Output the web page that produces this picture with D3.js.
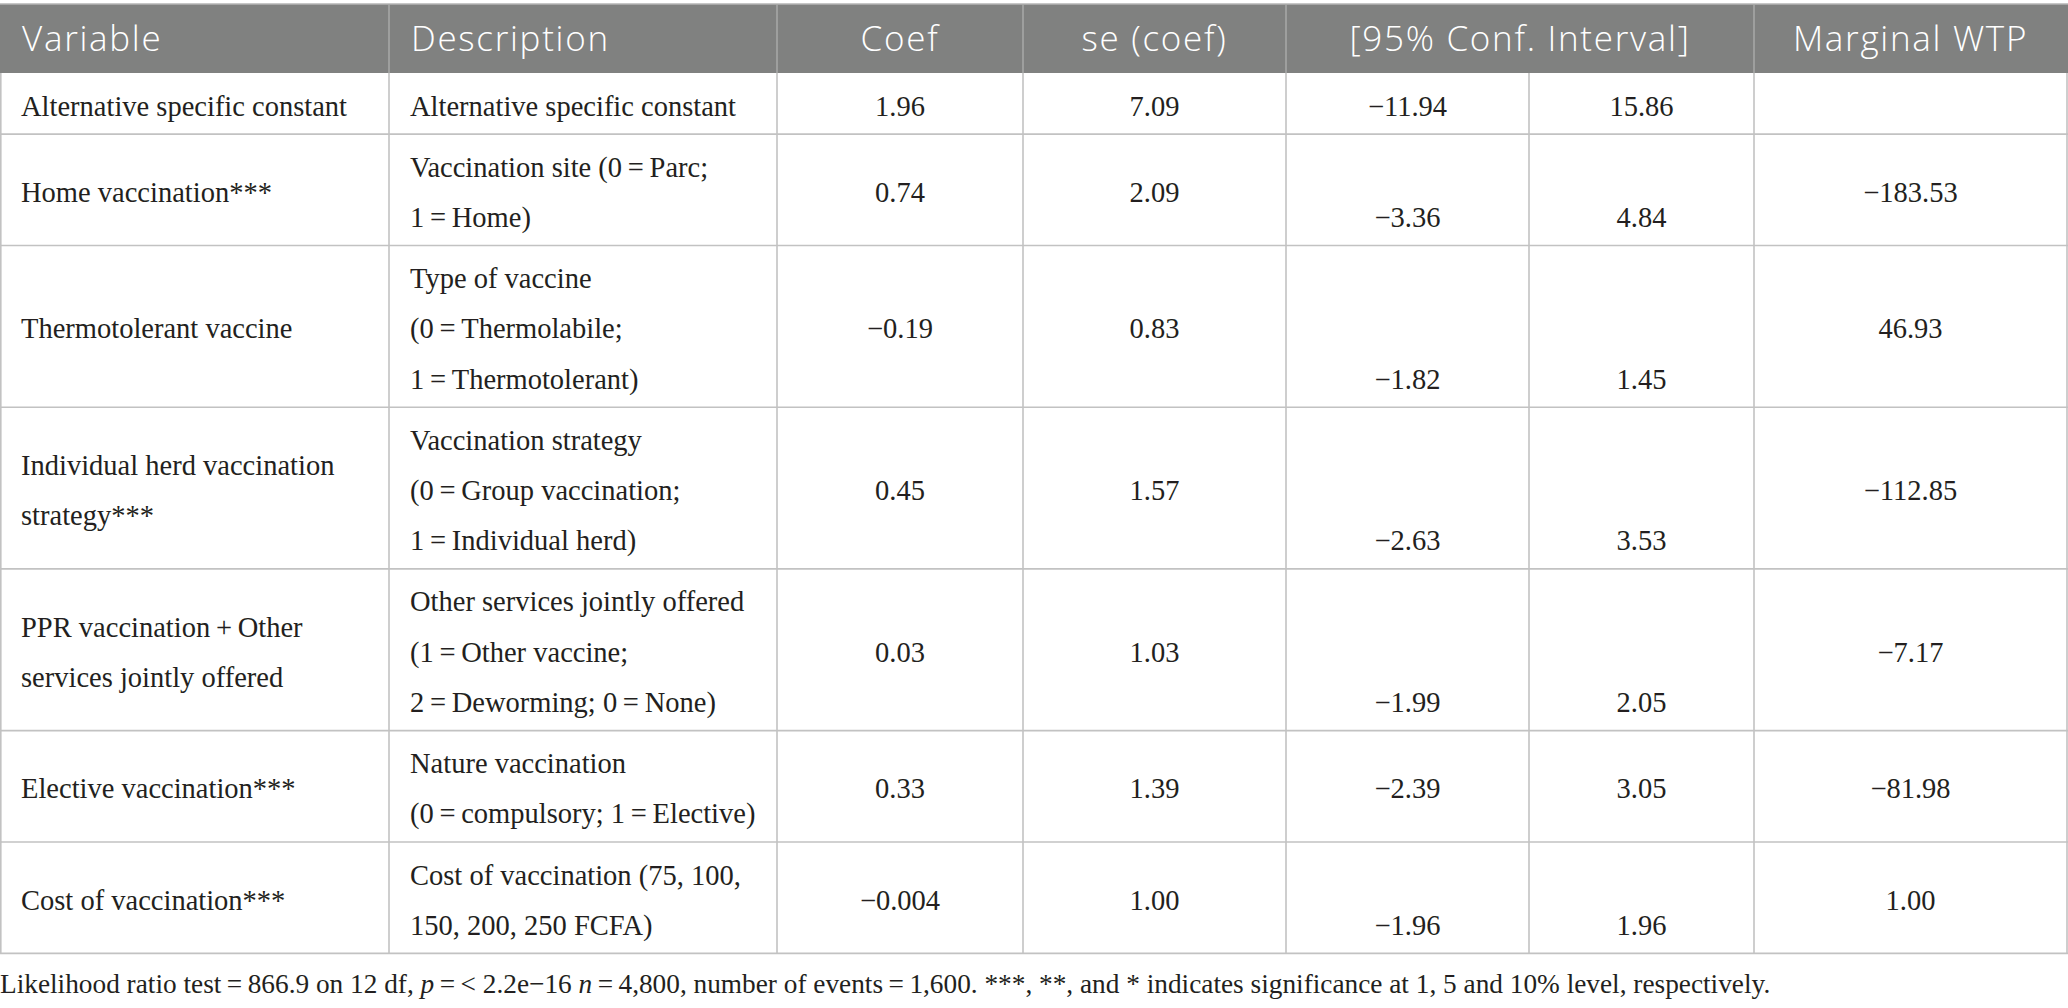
<html>
  <head>
    <meta charset="utf-8">
    <script src="https://cdn.jsdelivr.net/npm/d3@7"></script>
    <style>
      body { margin: 0; background: #ffffff; }
    </style>
    <script>
      // table content
      var headers = ["Variable", "Description", "Coef", "se (coef)", "[95% Conf. Interval]", "Marginal WTP"];
      var variables = [
        ["Alternative specific constant"],
        ["Home vaccination***"],
        ["Thermotolerant vaccine"],
        ["Individual herd vaccination", "strategy***"],
        ["PPR vaccination\u2009+\u2009Other", "services jointly offered"],
        ["Elective vaccination***"],
        ["Cost of vaccination***"]
      ];
      var descriptions = [
        ["Alternative specific constant"],
        ["Vaccination site (0\u2009=\u2009Parc;", "1\u2009=\u2009Home)"],
        ["Type of vaccine", "(0\u2009=\u2009Thermolabile;", "1\u2009=\u2009Thermotolerant)"],
        ["Vaccination strategy", "(0\u2009=\u2009Group vaccination;", "1\u2009=\u2009Individual herd)"],
        ["Other services jointly offered", "(1\u2009=\u2009Other vaccine;", "2\u2009=\u2009Deworming; 0\u2009=\u2009None)"],
        ["Nature vaccination", "(0\u2009=\u2009compulsory; 1\u2009=\u2009Elective)"],
        ["Cost of vaccination (75, 100,", "150, 200, 250 FCFA)"]
      ];
      var coef   = ["1.96", "0.74", "\u22120.19", "0.45", "0.03", "0.33", "\u22120.004"];
      var se     = ["7.09", "2.09", "0.83", "1.57", "1.03", "1.39", "1.00"];
      var ciLow  = ["\u221211.94", "\u22123.36", "\u22121.82", "\u22122.63", "\u22121.99", "\u22122.39", "\u22121.96"];
      var ciHigh = ["15.86", "4.84", "1.45", "3.53", "2.05", "3.05", "1.96"];
      var wtp    = ["", "\u2212183.53", "46.93", "\u2212112.85", "\u22127.17", "\u221281.98", "1.00"];
      // the interval values sit on the last text line except in these rows
      var ciMiddle = [0, 5];

      function load() {
        var svg = d3.select("svg"),
            width = +svg.attr("width");

        var colWidths = [389, 388, 246, 263, 243, 225, 313];
        var edges = [0].concat(Array.from(d3.cumsum(colWidths)));
        var lineH = 50.3, pad = 10.8, headTop = 4, headBottom = 73;
        var bodyFont = "'Liberation Serif', 'Times New Roman', serif";
        var headFont = "'Open Sans', 'Noto Sans', sans-serif";
        var fs = 28.5;

        var nLines = descriptions.map(function(d, i) {
          return Math.max(d.length, variables[i].length);
        });
        var heights = nLines.map(function(n) { return pad + n * lineH; });
        var tops = [headBottom].concat(Array.from(d3.cumsum(heights)).map(function(h) { return headBottom + h; }));

        var x = d3.scaleOrdinal().domain(d3.range(edges.length)).range(edges);

        // header band
        svg.append("rect")
          .attr("x", 0).attr("y", headTop)
          .attr("width", width).attr("height", headBottom - headTop)
          .attr("fill", "#808180");
        svg.append("line")
          .attr("x1", 0).attr("x2", width)
          .attr("y1", headTop).attr("y2", headTop)
          .attr("stroke", "#b4b5b4").attr("stroke-width", 1.5);

        var headCols = [[0, 1, "start"], [1, 2, "start"], [2, 3, "middle"], [3, 4, "middle"], [4, 6, "middle"], [6, 7, "middle"]];
        [1, 2, 3, 4, 6].forEach(function(c) {
          svg.append("line")
            .attr("x1", x(c)).attr("x2", x(c))
            .attr("y1", headTop).attr("y2", headBottom)
            .attr("stroke", "#a9aaa9").attr("stroke-width", 1.5);
        });
        svg.append("g").selectAll("text")
          .data(headers)
          .enter().append("text")
          .attr("x", function(d, i) {
            var hc = headCols[i];
            return hc[2] == "start" ? x(hc[0]) + 22 : (x(hc[0]) + x(hc[1])) / 2;
          })
          .attr("y", 51)
          .attr("text-anchor", function(d, i) { return headCols[i][2]; })
          .attr("fill", "#ffffff")
          .attr("font-family", headFont)
          .attr("font-size", 35)
          .attr("font-weight", 300)
          .attr("letter-spacing", 1.7)
          .text(function(d) { return d; });

        // grid
        var grid = svg.append("g")
          .attr("stroke", "#c2c2c2").attr("stroke-width", 1.6);
        tops.forEach(function(t, i) {
          if (i == 0) return;
          grid.append("line")
            .attr("x1", 0).attr("x2", width)
            .attr("y1", t).attr("y2", t);
        });
        edges.forEach(function(e, i) {
          var xx = Math.min(Math.max(e, 0.8), width - 0.8);
          grid.append("line")
            .attr("x1", xx).attr("x2", xx)
            .attr("y1", headBottom).attr("y2", tops[tops.length - 1]);
        });

        // body cells
        var body = svg.append("g")
          .attr("font-family", bodyFont)
          .attr("font-size", fs)
          .attr("fill", "#231f20");

        function lineY(r, k, n) {
          var top = tops[r], h = heights[r];
          var start = top + (h - n * lineH) / 2;
          return start + (k + 0.5) * lineH + fs * 0.42;
        }

        function addLines(r, lines, cx, anchor, offset) {
          var n = nLines[r];
          var first = offset == null ? (n - lines.length) / 2 : offset;
          lines.forEach(function(t, k) {
            body.append("text")
              .attr("x", cx)
              .attr("y", lineY(r, first + k, n))
              .attr("text-anchor", anchor)
              .text(t);
          });
        }

        descriptions.forEach(function(d, r) {
          addLines(r, variables[r], x(0) + 21, "start");
          addLines(r, d, x(1) + 21, "start", 0);
          var mid = function(c) { return (x(c) + x(c + 1)) / 2; };
          addLines(r, [coef[r]], mid(2), "middle");
          addLines(r, [se[r]], mid(3), "middle");
          var ciOff = ciMiddle.indexOf(r) >= 0 ? null : nLines[r] - 1;
          addLines(r, [ciLow[r]], mid(4), "middle", ciOff);
          addLines(r, [ciHigh[r]], mid(5), "middle", ciOff);
          addLines(r, [wtp[r]], mid(6), "middle");
        });

        // footnote
        var note = svg.append("text")
          .attr("x", 0)
          .attr("y", tops[tops.length - 1] + 40)
          .attr("font-family", bodyFont)
          .attr("font-size", 27.3)
          .attr("fill", "#231f20");
        note.append("tspan").text("Likelihood ratio test\u2009=\u2009866.9 on 12 df, ");
        note.append("tspan").attr("font-style", "italic").text("p");
        note.append("tspan").text("\u2009=\u2009< 2.2e\u221216 ");
        note.append("tspan").attr("font-style", "italic").text("n");
        note.append("tspan").text("\u2009=\u20094,800, number of events\u2009=\u20091,600. ***, **, and * indicates significance at 1, 5 and 10% level, respectively.");
      }
    </script>
  </head>
  <body onload="load()">
    <svg width="2068" height="1008"></svg>
  </body>
</html>
